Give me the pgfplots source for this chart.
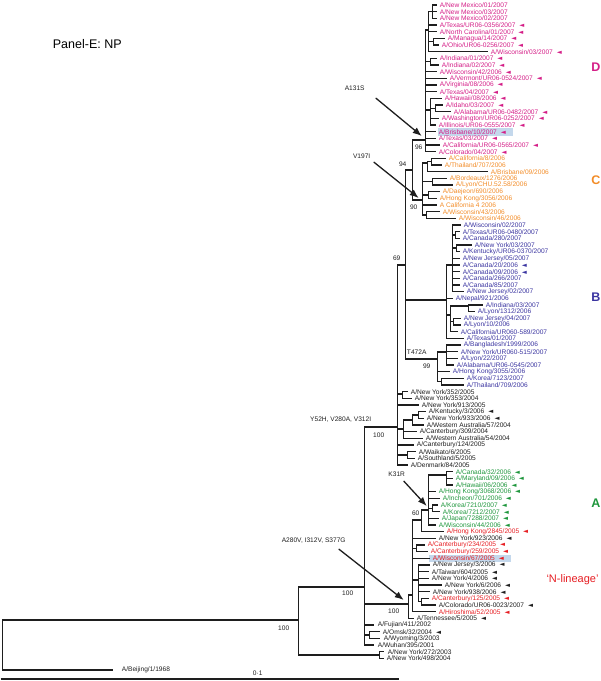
\documentclass[border=0pt]{standalone}
\usepackage{fontspec}
\setmainfont{Liberation Sans}
\newfontfamily\djv{DejaVu Sans}
\usepackage{pgfplots}
\pgfplotsset{compat=1.18}
\usetikzlibrary{arrows.meta}
\definecolor{cD}{RGB}{212,30,135}
\definecolor{cC}{RGB}{242,140,40}
\definecolor{cB}{RGB}{58,52,160}
\definecolor{cA}{RGB}{30,150,60}
\definecolor{cR}{RGB}{230,30,35}
\definecolor{cK}{RGB}{30,30,30}
\definecolor{hl}{RGB}{196,216,236}
\newcommand\tri{\hspace{4pt}{\djv\fontsize{6.5}{6.5}\selectfont ◄}}
\newcommand\lfont{\fontsize{6.6}{7}\selectfont}
\newcommand\lf[4]{\node[anchor=west,inner sep=0pt,text=#3,font=\lfont] at (axis cs:#1,#2) {#4};}
\newcommand\bl[3]{\node[inner sep=0pt,text=cK,font=\lfont] at (axis cs:#1,#2) {#3};}
\begin{document}
\begin{tikzpicture}
\begin{axis}[width=600pt,height=681pt,scale only axis,xmin=0,xmax=600,ymin=0,ymax=681,
  y dir=reverse,hide axis,clip=false,unbounded coords=jump,
  tree/.style={cK,line width=1.2pt,line cap=rect,no markers,forget plot},
  arr/.style={cK,line width=1.3pt,no markers,forget plot,-{Latex[length=9pt,width=7pt]}}]
\path (axis cs:0,0) rectangle (axis cs:600,681);
% highlights
\fill[hl] (axis cs:437,128) rectangle (axis cs:512,135.5);
\fill[hl] (axis cs:428,554.5) rectangle (axis cs:510,562);
% root, R1, R2
\addplot[tree] coordinates {
(2,620)(2,670) (nan,nan) (2,620)(298,620) (nan,nan) (2,670)(112,670) (nan,nan)
(298,587)(298,655) (nan,nan) (298,587)(364,587) (nan,nan) (298,655)(379,655) (nan,nan)
(379,651.7)(379,658.3) (nan,nan) (379,651.7)(383,651.7) (nan,nan) (379,658.3)(383,658.3) (nan,nan)
(364,427)(364,645) (nan,nan) (364,427)(397,427) (nan,nan) (364,604)(408,604) (nan,nan)
(364,625)(373,625) (nan,nan) (364,635)(369,635) (nan,nan) (369,631.7)(369,638.3) (nan,nan)
(369,631.7)(379,631.7) (nan,nan) (369,638.3)(379,638.3) (nan,nan) (364,645)(373,645)
};
% Y52H clade
\addplot[tree] coordinates {
(397,265)(397,465) (nan,nan) (397,265)(405,265) (nan,nan)
(397,394)(402,394) (nan,nan) (402,391.7)(402,398.3) (nan,nan) (402,391.7)(407,391.7) (nan,nan) (402,398.3)(411,398.3) (nan,nan)
(397,405)(418,405) (nan,nan)
(397,429)(403,429) (nan,nan) (403,420)(403,438.3) (nan,nan) (403,420)(412,420) (nan,nan) (412,415)(412,425) (nan,nan)
(412,415)(418,415) (nan,nan) (418,411.7)(418,418.3) (nan,nan) (418,411.7)(425,411.7) (nan,nan) (418,418.3)(423,418.3) (nan,nan)
(412,425)(423,425) (nan,nan) (403,431.7)(416,431.7) (nan,nan) (403,438.3)(422,438.3) (nan,nan)
(397,445)(413,445) (nan,nan)
(397,455)(407,455) (nan,nan) (407,451.7)(407,458.3) (nan,nan) (407,451.7)(415,451.7) (nan,nan) (407,458.3)(414,458.3) (nan,nan)
(397,465)(407,465)
};
% N69, N94
\addplot[tree] coordinates {
(405,170)(405,359) (nan,nan) (405,170)(412,170) (nan,nan) (405,300)(446,300) (nan,nan) (405,359)(437,359) (nan,nan)
(412,140)(412,200) (nan,nan) (412,140)(425,140) (nan,nan) (412,200)(422,200)
};
% D clade
\addplot[tree] coordinates {
(425,30)(425,151.7) (nan,nan) (425,30)(428,30) (nan,nan) (428,11.7)(428,51.7) (nan,nan)
(428,11.7)(432,11.7) (nan,nan) (432,5)(432,18.3) (nan,nan) (432,5)(436,5) (nan,nan) (432,11.7)(436,11.7) (nan,nan) (432,18.3)(436,18.3) (nan,nan)
(428,25)(436,25) (nan,nan) (428,31.7)(436,31.7) (nan,nan)
(428,41.7)(433,41.7) (nan,nan) (433,38.3)(433,45) (nan,nan) (433,38.3)(444,38.3) (nan,nan) (433,45)(438,45) (nan,nan)
(428,51.7)(487,51.7) (nan,nan)
(425,61.7)(430,61.7) (nan,nan) (430,58.3)(430,65) (nan,nan) (430,58.3)(436,58.3) (nan,nan) (430,65)(438,65) (nan,nan)
(425,71.7)(436,71.7) (nan,nan) (425,78.3)(446,78.3) (nan,nan) (425,85)(436,85) (nan,nan) (425,91.7)(436,91.7) (nan,nan)
(425,110)(430,110) (nan,nan) (430,98.3)(430,125) (nan,nan) (430,98.3)(441,98.3) (nan,nan)
(430,108.3)(435,108.3) (nan,nan) (435,105)(435,111.7) (nan,nan) (435,105)(442,105) (nan,nan) (435,111.7)(450,111.7) (nan,nan)
(430,118.3)(438,118.3) (nan,nan) (430,125)(435,125) (nan,nan)
(425,131.7)(435,131.7) (nan,nan) (425,138.3)(435,138.3) (nan,nan) (425,145)(439,145) (nan,nan) (425,151.7)(435,151.7)
};
% C clade
\addplot[tree] coordinates {
(422,163)(422,215) (nan,nan) (422,163)(427,163) (nan,nan) (427,161.7)(427,171.7) (nan,nan)
(427,161.7)(431,161.7) (nan,nan) (431,158.3)(431,165) (nan,nan) (431,158.3)(445,158.3) (nan,nan) (431,165)(441,165) (nan,nan)
(427,171.7)(487,171.7) (nan,nan)
(422,181.7)(432,181.7) (nan,nan) (432,178.3)(432,185) (nan,nan) (432,178.3)(446,178.3) (nan,nan) (432,185)(452,185) (nan,nan)
(422,195)(428,195) (nan,nan) (428,191.7)(428,198.3) (nan,nan) (428,191.7)(439,191.7) (nan,nan) (428,198.3)(436,198.3) (nan,nan)
(422,205)(436,205) (nan,nan)
(422,215)(426,215) (nan,nan) (426,211.7)(426,218.3) (nan,nan) (426,211.7)(439,211.7) (nan,nan) (426,218.3)(455,218.3)
};
% B clade
\addplot[tree] coordinates {
(446,265)(446,338.3) (nan,nan) (446,265)(452,265) (nan,nan) (452,225)(452,291.7) (nan,nan)
(452,225)(460,225) (nan,nan) (452,235)(455,235) (nan,nan) (455,231.7)(455,238.3) (nan,nan) (455,231.7)(459,231.7) (nan,nan) (455,238.3)(459,238.3) (nan,nan)
(452,248)(456,248) (nan,nan) (456,245)(456,251.7) (nan,nan) (456,245)(471,245) (nan,nan) (456,251.7)(459,251.7) (nan,nan)
(452,258.3)(459,258.3) (nan,nan) (452,265)(459,265) (nan,nan) (452,271.7)(459,271.7) (nan,nan) (452,278.3)(459,278.3) (nan,nan)
(452,285)(459,285) (nan,nan) (452,291.7)(463,291.7) (nan,nan)
(446,298.3)(452,298.3) (nan,nan)
(446,315)(450,315) (nan,nan) (450,306)(450,331.7) (nan,nan) (450,306)(468,306) (nan,nan) (468,305)(468,311.7) (nan,nan)
(468,305)(482,305) (nan,nan) (468,311.7)(474,311.7) (nan,nan)
(450,321.7)(453,321.7) (nan,nan) (453,318.3)(453,325) (nan,nan) (453,318.3)(460,318.3) (nan,nan) (453,325)(460,325) (nan,nan)
(450,331.7)(457,331.7) (nan,nan) (446,338.3)(463,338.3) (nan,nan)
(437,352)(437,381.7) (nan,nan) (437,352)(446,352) (nan,nan) (446,345)(446,365) (nan,nan)
(446,345)(460,345) (nan,nan) (446,351.7)(457,351.7) (nan,nan) (446,358.3)(457,358.3) (nan,nan) (446,365)(453,365) (nan,nan)
(437,371.7)(449,371.7) (nan,nan) (437,381.7)(441,381.7) (nan,nan) (441,378.3)(441,385) (nan,nan)
(441,378.3)(463,378.3) (nan,nan) (441,385)(463,385)
};
% N-lineage clade
\addplot[tree] coordinates {
(408,595)(408,618.3) (nan,nan) (408,595)(412,595) (nan,nan) (408,618.3)(413,618.3) (nan,nan)
(412,520)(412,611.7) (nan,nan) (412,520)(421,520) (nan,nan) (412,538.3)(435,538.3) (nan,nan)
(412,548.3)(416,548.3) (nan,nan) (416,545)(416,551.7) (nan,nan) (416,545)(424,545) (nan,nan) (416,551.7)(427,551.7) (nan,nan)
(412,558.3)(429,558.3) (nan,nan)
(412,580)(418,580) (nan,nan) (418,565)(418,601.7) (nan,nan) (418,565)(429,565) (nan,nan) (418,571.7)(428,571.7) (nan,nan)
(418,578.3)(428,578.3) (nan,nan) (418,585)(441,585) (nan,nan) (418,591.7)(429,591.7) (nan,nan)
(418,601.7)(421,601.7) (nan,nan) (421,598.3)(421,605) (nan,nan) (421,598.3)(428,598.3) (nan,nan) (421,605)(435,605) (nan,nan)
(412,611.7)(435,611.7) (nan,nan)
(421,510)(421,531.7) (nan,nan) (421,510)(428,510) (nan,nan) (421,531.7)(443,531.7) (nan,nan)
(428,475)(428,525) (nan,nan) (428,475)(446,475) (nan,nan) (446,471.7)(446,485) (nan,nan)
(446,471.7)(452,471.7) (nan,nan) (446,478.3)(452,478.3) (nan,nan) (446,485)(452,485) (nan,nan)
(428,491.7)(435,491.7) (nan,nan) (428,498.3)(439,498.3) (nan,nan)
(428,508.3)(432,508.3) (nan,nan) (432,505)(432,511.7) (nan,nan) (432,505)(437,505) (nan,nan) (432,511.7)(439,511.7) (nan,nan)
(428,518.3)(438,518.3) (nan,nan) (428,525)(435,525)
};
% scale bar
\addplot[cK,line width=1.4pt,no markers,forget plot] coordinates {(0,679)(398,679)};
% arrows
\addplot[arr] coordinates {(375,98)(421,136)};
\addplot[arr] coordinates {(373,162)(418,198)};
\addplot[arr] coordinates {(403,481)(426,506)};
\addplot[arr] coordinates {(338,549)(403,600)};
% leaves
\lf{439}{5}{cD}{A/New Mexico/01/2007}
\lf{439}{11.7}{cD}{A/New Mexico/03/2007}
\lf{439}{18.3}{cD}{A/New Mexico/02/2007}
\lf{439}{25}{cD}{A/Texas/UR06-0356/2007\tri}
\lf{439}{31.7}{cD}{A/North Carolina/01/2007\tri}
\lf{447}{38.3}{cD}{A/Managua/14/2007\tri}
\lf{441}{45}{cD}{A/Ohio/UR06-0256/2007\tri}
\lf{490}{51.7}{cD}{A/Wisconsin/03/2007\tri}
\lf{439}{58.3}{cD}{A/Indiana/01/2007\tri}
\lf{441}{65}{cD}{A/Indiana/02/2007\tri}
\lf{439}{71.7}{cD}{A/Wisconsin/42/2006\tri}
\lf{449}{78.3}{cD}{A/Vermont/UR06-0524/2007\tri}
\lf{439}{85}{cD}{A/Virginia/08/2006\tri}
\lf{439}{91.7}{cD}{A/Texas/04/2007\tri}
\lf{444}{98.3}{cD}{A/Hawaii/08/2006\tri}
\lf{445}{105}{cD}{A/Idaho/03/2007\tri}
\lf{453}{111.7}{cD}{A/Alabama/UR06-0482/2007\tri}
\lf{441}{118.3}{cD}{A/Washington/UR06-0252/2007\tri}
\lf{438}{125}{cD}{A/Illinois/UR06-0555/2007\tri}
\lf{438}{131.7}{cD}{A/Brisbane/10/2007\tri}
\lf{438}{138.3}{cD}{A/Texas/03/2007\tri}
\lf{442}{145}{cD}{A/California/UR06-0565/2007\tri}
\lf{438}{151.7}{cD}{A/Colorado/04/2007\tri}
\lf{448}{158.3}{cC}{A/California/8/2006}
\lf{444}{165}{cC}{A/Thailand/707/2006}
\lf{490}{171.7}{cC}{A/Brisbane/09/2006}
\lf{449}{178.3}{cC}{A/Bordeaux/1276/2006}
\lf{455}{185}{cC}{A/Lyon/CHU.52.58/2006}
\lf{442}{191.7}{cC}{A/Daejeon/690/2006}
\lf{439}{198.3}{cC}{A/Hong Kong/3056/2006}
\lf{439}{205}{cC}{A California 4 2006}
\lf{442}{211.7}{cC}{A/Wisconsin/43/2006}
\lf{458}{218.3}{cC}{A/Wisconsin/46/2006}
\lf{463}{225}{cB}{A/Wisconsin/02/2007}
\lf{462}{231.7}{cB}{A/Texas/UR06-0480/2007}
\lf{462}{238.3}{cB}{A/Canada/280/2007}
\lf{474}{245}{cB}{A/New York/03/2007}
\lf{462}{251.7}{cB}{A/Kentucky/UR06-0370/2007}
\lf{462}{258.3}{cB}{A/New Jersey/05/2007}
\lf{462}{265}{cB}{A/Canada/20/2006\tri}
\lf{462}{271.7}{cB}{A/Canada/09/2006\tri}
\lf{462}{278.3}{cB}{A/Canada/266/2007}
\lf{462}{285}{cB}{A/Canada/85/2007}
\lf{466}{291.7}{cB}{A/New Jersey/02/2007}
\lf{455}{298.3}{cB}{A/Nepal/921/2006}
\lf{485}{305}{cB}{A/Indiana/03/2007}
\lf{477}{311.7}{cB}{A/Lyon/1312/2006}
\lf{463}{318.3}{cB}{A/New Jersey/04/2007}
\lf{463}{325}{cB}{A/Lyon/10/2006}
\lf{460}{331.7}{cB}{A/California/UR060-589/2007}
\lf{466}{338.3}{cB}{A/Texas/01/2007}
\lf{463}{345}{cB}{A/Bangladesh/1999/2006}
\lf{460}{351.7}{cB}{A/New York/UR060-515/2007}
\lf{460}{358.3}{cB}{A/Lyon/22/2007}
\lf{456}{365}{cB}{A/Alabama/UR06-0545/2007}
\lf{452}{371.7}{cB}{A/Hong Kong/3055/2006}
\lf{466}{378.3}{cB}{A/Korea/7123/2007}
\lf{466}{385}{cB}{A/Thailand/709/2006}
\lf{410}{391.7}{cK}{A/New York/352/2005}
\lf{414}{398.3}{cK}{A/New York/353/2004}
\lf{421}{405}{cK}{A/New York/913/2005}
\lf{428}{411.7}{cK}{A/Kentucky/3/2006\tri}
\lf{426}{418.3}{cK}{A/New York/933/2006\tri}
\lf{426}{425}{cK}{A/Western Australia/57/2004}
\lf{419}{431.7}{cK}{A/Canterbury/309/2004}
\lf{425}{438.3}{cK}{A/Western Australia/54/2004}
\lf{416}{445}{cK}{A/Canterbury/124/2005}
\lf{418}{451.7}{cK}{A/Waikato/6/2005}
\lf{417}{458.3}{cK}{A/Southland/5/2005}
\lf{410}{465}{cK}{A/Denmark/84/2005}
\lf{455}{471.7}{cA}{A/Canada/32/2006\tri}
\lf{455}{478.3}{cA}{A/Maryland/09/2006\tri}
\lf{455}{485}{cA}{A/Hawaii/06/2006\tri}
\lf{438}{491.7}{cA}{A/Hong Kong/3068/2006\tri}
\lf{442}{498.3}{cA}{A/Incheon/701/2006\tri}
\lf{440}{505}{cA}{A/Korea/7210/2007\tri}
\lf{442}{511.7}{cA}{A/Korea/7212/2007\tri}
\lf{441}{518.3}{cA}{A/Japan/7288/2007\tri}
\lf{438}{525}{cA}{A/Wisconsin/44/2006\tri}
\lf{446}{531.7}{cR}{A/Hong Kong/2845/2005\tri}
\lf{438}{538.3}{cK}{A/New York/923/2006\tri}
\lf{427}{545}{cR}{A/Canterbury/234/2005\tri}
\lf{430}{551.7}{cR}{A/Canterbury/259/2005\tri}
\lf{432}{558.3}{cR}{A/Wisconsin/67/2005\tri}
\lf{432}{565}{cK}{A/New Jersey/3/2006\tri}
\lf{431}{571.7}{cK}{A/Taiwan/604/2005\tri}
\lf{431}{578.3}{cK}{A/New York/4/2006\tri}
\lf{444}{585}{cK}{A/New York/6/2006\tri}
\lf{432}{591.7}{cK}{A/New York/938/2006\tri}
\lf{431}{598.3}{cR}{A/Canterbury/125/2005\tri}
\lf{438}{605}{cK}{A/Colorado/UR06-0023/2007\tri}
\lf{438}{611.7}{cR}{A/Hiroshima/52/2005\tri}
\lf{416}{618.3}{cK}{A/Tennessee/5/2005\tri}
\lf{377}{625}{cK}{A/Fujian/411/2002}
\lf{382}{631.7}{cK}{A/Omsk/32/2004\tri}
\lf{383}{638.3}{cK}{A/Wyoming/3/2003}
\lf{377}{645}{cK}{A/Wuhan/395/2001}
\lf{387}{651.7}{cK}{A/New York/272/2003}
\lf{386}{658.3}{cK}{A/New York/498/2004}
\lf{121}{670}{cK}{A/Beijing/1/1968}
% branch labels
\bl{418}{147}{96}
\bl{402}{164}{94}
\bl{413}{207}{90}
\bl{396}{258}{69}
\bl{426}{366}{99}
\bl{416}{352}{T472A}
\bl{378}{435}{100}
\bl{340}{420}{Y52H, V280A, V312I}
\bl{415}{513}{60}
\bl{396}{474}{K31R}
\bl{393}{611}{100}
\bl{347}{593}{100}
\bl{283}{628}{100}
\bl{313}{541}{A280V, I312V, S377G}
\bl{354}{88}{A131S}
\bl{361}{156}{V197I}
\bl{257}{673}{0·1}
% titles and groups
\node[anchor=west,inner sep=0pt,font=\fontsize{12.5}{14}\selectfont] at (axis cs:52,44) {Panel-E: NP};
\node[anchor=east,inner sep=0pt,text=cD,font=\fontsize{12.5}{14}\selectfont\bfseries] at (axis cs:600,67) {D};
\node[anchor=east,inner sep=0pt,text=cC,font=\fontsize{12.5}{14}\selectfont\bfseries] at (axis cs:600,180) {C};
\node[anchor=east,inner sep=0pt,text=cB,font=\fontsize{12.5}{14}\selectfont\bfseries] at (axis cs:600,297) {B};
\node[anchor=east,inner sep=0pt,text=cA,font=\fontsize{12.5}{14}\selectfont\bfseries] at (axis cs:600,503) {A};
\node[anchor=east,inner sep=0pt,text=cR,font=\fontsize{11}{13}\selectfont] at (axis cs:598,580) {‘N-lineage’};
\end{axis}
\end{tikzpicture}
\end{document}
